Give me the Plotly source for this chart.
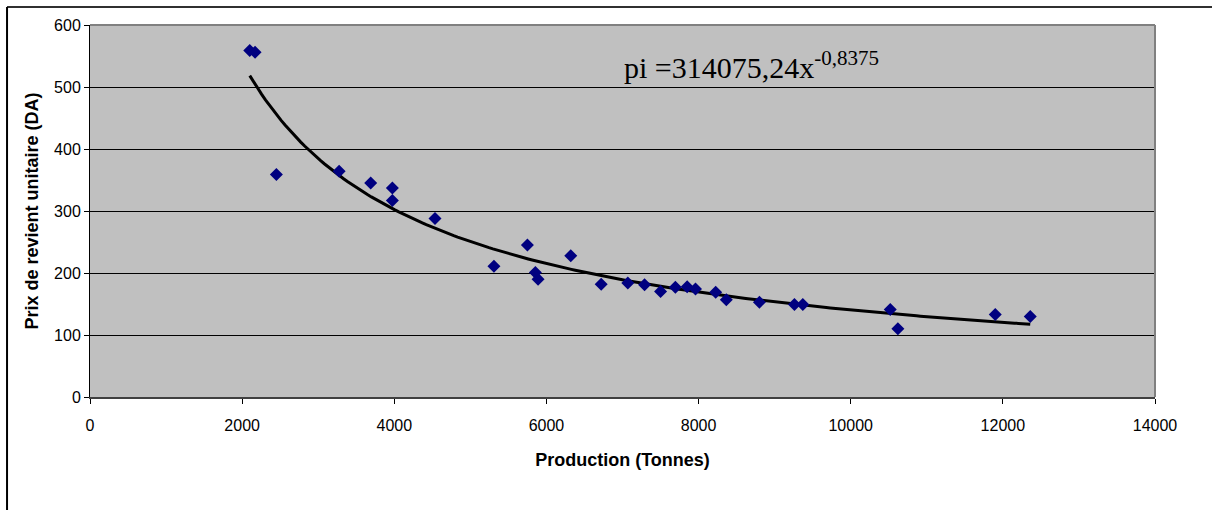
import numpy as np
import plotly.graph_objects as go

# Data
production = [2100, 2170, 2450, 3275, 3690, 3975, 3975, 4535, 5310, 5750, 5855, 5890,
              6320, 6720, 7070, 7290, 7500, 7695, 7850, 7960, 8225, 8365, 8800,
              9260, 9370, 10520, 10620, 11900, 12360]
prix = [559, 556, 359, 364, 345, 337, 317, 288, 211, 245, 201, 190,
        228, 182, 184, 181, 170, 177, 178, 174, 169, 157, 153,
        149, 149, 141, 110, 133, 130]

# Power trendline parameters shown on the chart
coef_a = 314075.24
coef_b = -0.8375

x_fit = np.linspace(min(production), max(production), 200)
y_fit = coef_a * x_fit ** coef_b

fig = go.Figure()
fig.add_trace(go.Scatter(
    x=x_fit, y=y_fit, mode="lines",
    line=dict(color="black", width=3),
    showlegend=False, hoverinfo="skip"))
fig.add_trace(go.Scatter(
    x=production, y=prix, mode="markers",
    marker=dict(symbol="diamond", size=10, color="#000080", line=dict(width=0)),
    showlegend=False, hoverinfo="x+y"))

font_sans = "Liberation Sans, Arial, sans-serif"

fig.update_layout(
    width=1212, height=510,
    margin=dict(l=90, r=57, t=25, b=113),
    paper_bgcolor="white",
    plot_bgcolor="#C0C0C0",
    font=dict(family=font_sans, size=16, color="black"),
    xaxis=dict(
        range=[0, 14000], dtick=2000, tick0=0, tickformat="d",
        showgrid=False, zeroline=False,
        showline=True, linecolor="#404040", linewidth=2,
        ticks="outside", ticklen=5, tickcolor="black",
        ticklabelstandoff=8,
        tickfont=dict(family=font_sans, size=16),
        title=dict(text="<b>Production (Tonnes)</b>", font=dict(family=font_sans, size=18), standoff=20),
    ),
    yaxis=dict(
        range=[0, 600], dtick=100, tick0=0,
        showgrid=True, gridcolor="black", gridwidth=1,
        zeroline=False,
        showline=True, linecolor="black", linewidth=1,
        ticks="outside", ticklen=5, tickcolor="black",
        tickfont=dict(family=font_sans, size=16),
        title=dict(text="<b>Prix de revient unitaire (DA)</b>", font=dict(family=font_sans, size=18), standoff=10),
    ),
    shapes=[
        # plot area border (top and right)
        dict(type="line", xref="paper", yref="paper", x0=0, x1=1, y0=1, y1=1,
             line=dict(color="#808080", width=2)),
        dict(type="line", xref="paper", yref="paper", x0=1, x1=1, y0=0, y1=1,
             line=dict(color="#808080", width=2)),
        # outer chart frame (top and left visible)
        dict(type="line", xref="paper", yref="paper", x0=-0.0779, x1=1.06, y0=1.0484, y1=1.0484,
             line=dict(color="#303030", width=2)),
        dict(type="line", xref="paper", yref="paper", x0=-0.0779, x1=-0.0779, y0=-0.31, y1=1.0484,
             line=dict(color="black", width=2)),
    ],
    annotations=[
        dict(x=6990, y=535, xref="x", yref="y", xanchor="left", yanchor="middle",
             text="pi =314075,24x<sup>-0,8375</sup>", showarrow=False,
             font=dict(family="Liberation Serif, Times New Roman, serif", size=30, color="black")),
    ],
)

fig.write_html("out.html")
